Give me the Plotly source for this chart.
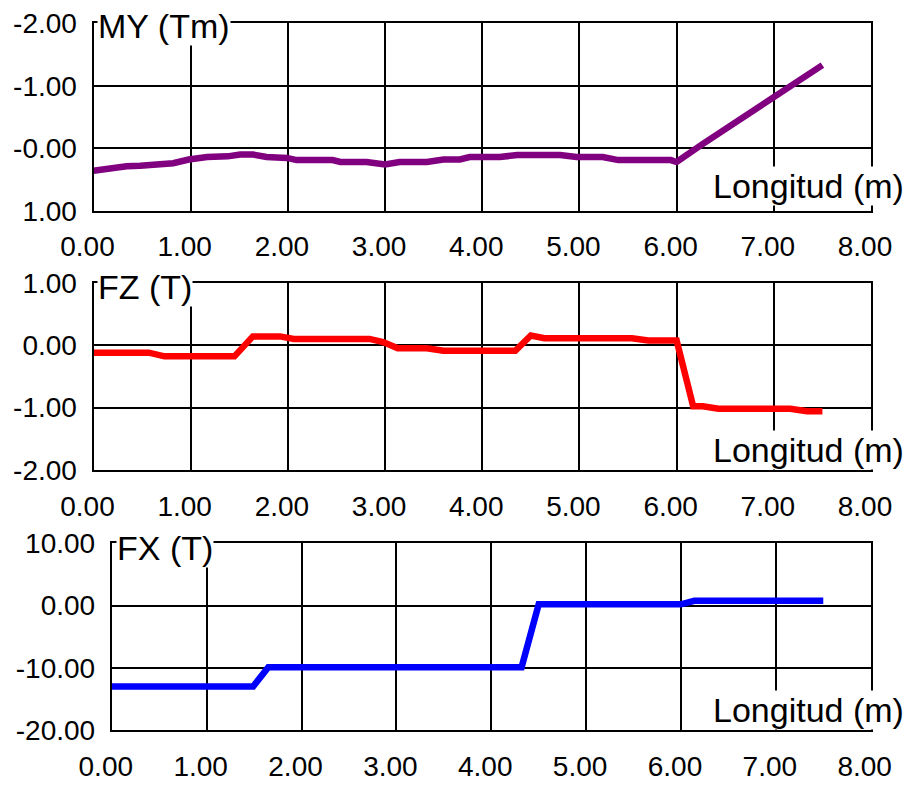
import plotly.graph_objects as go

W, H = 907, 788

# ---- data ----
my_x = [0.0, 0.22, 0.34, 0.48, 0.65, 0.82, 0.98, 1.17, 1.38, 1.51, 1.64, 1.78, 1.99, 2.09, 2.46, 2.54,
        2.81, 3.0, 3.15, 3.43, 3.6, 3.77, 3.87, 4.18, 4.36, 4.8, 4.97, 5.24, 5.4, 5.94, 6.0, 6.27, 7.5]
my_y = [0.36, 0.30, 0.29, 0.28, 0.26, 0.24, 0.18, 0.14, 0.13, 0.10, 0.10, 0.14, 0.155, 0.19, 0.19, 0.22,
        0.22, 0.26, 0.22, 0.22, 0.18, 0.18, 0.14, 0.14, 0.11, 0.11, 0.14, 0.14, 0.19, 0.19, 0.22, -0.07, -1.33]

fz_x = [0.0, 0.57, 0.73, 1.45, 1.64, 1.92, 2.06, 2.84, 2.98, 3.13, 3.43, 3.6, 4.34, 4.5, 4.64, 5.54,
        5.71, 6.0, 6.17, 6.27, 6.43, 7.17, 7.34, 7.5]
fz_y = [-0.12, -0.12, -0.18, -0.18, 0.14, 0.14, 0.10, 0.10, 0.05, -0.05, -0.05, -0.09, -0.09, 0.155, 0.11, 0.11,
        0.075, 0.075, -0.98, -0.98, -1.02, -1.02, -1.06, -1.06]

fx_x = [0.0, 1.49, 1.65, 4.32, 4.5, 6.0, 6.14, 7.5]
fx_y = [-13.0, -13.0, -9.9, -9.9, 0.2, 0.2, 0.75, 0.75]

x_ticks = [0, 1, 2, 3, 4, 5, 6, 7, 8]
x_ticktext = ["0.00", "1.00", "2.00", "3.00", "4.00", "5.00", "6.00", "7.00", "8.00"]
my_ticks = [-2, -1, 0, 1]
my_ticktext = ["-2.00", "-1.00", "-0.00", "1.00"]
fz_ticks = [1, 0, -1, -2]
fz_ticktext = ["1.00", "0.00", "-1.00", "-2.00"]
fx_ticks = [10, 0, -10, -20]
fx_ticktext = ["10.00", "0.00", "-10.00", "-20.00"]

FONT = "Liberation Sans"

def px_x(p):
    return p / W

def px_y(p):
    return 1 - p / H

fig = go.Figure()
fig.add_trace(go.Scatter(x=my_x, y=my_y, mode="lines", line=dict(color="#800080", width=6.5),
                         xaxis="x", yaxis="y", showlegend=False))
fig.add_trace(go.Scatter(x=fz_x, y=fz_y, mode="lines", line=dict(color="#ff0000", width=6.5),
                         xaxis="x2", yaxis="y2", showlegend=False))
fig.add_trace(go.Scatter(x=fx_x, y=fx_y, mode="lines", line=dict(color="#0000ff", width=6.5),
                         xaxis="x3", yaxis="y3", showlegend=False))

def xax(domain, anchor):
    return dict(domain=domain, anchor=anchor, range=[0, 8], tickvals=x_ticks, ticktext=x_ticktext,
                showgrid=True, gridcolor="black", gridwidth=2, showline=True, mirror=True,
                linecolor="black", linewidth=2, zeroline=False, ticks="", automargin=False,
                ticklabelstandoff=10, ticklabelshift=-6,
                tickfont=dict(family=FONT, size=28, color="black"), fixedrange=True)

def yax(domain, anchor, rng, tv, tt):
    return dict(domain=domain, anchor=anchor, range=rng, tickvals=tv, ticktext=tt,
                showgrid=True, gridcolor="black", gridwidth=2, showline=True, mirror=True,
                linecolor="black", linewidth=2, zeroline=False, ticks="", automargin=False,
                ticklabelstandoff=9,
                tickfont=dict(family=FONT, size=28, color="black"), fixedrange=True)

xd12 = [px_x(93.5), px_x(871)]
xd3 = [px_x(111.8), px_x(870.7)]

fig.update_layout(
    width=W, height=H, margin=dict(l=0, r=0, t=0, b=0, autoexpand=False),
    paper_bgcolor="white", plot_bgcolor="white",
    xaxis=xax(xd12, "y"),
    yaxis=yax([px_y(210.7), px_y(23.3)], "x", [1, -2], my_ticks, my_ticktext),
    xaxis2=xax(xd12, "y2"),
    yaxis2=yax([px_y(470), px_y(282.7)], "x2", [-2, 1], fz_ticks, fz_ticktext),
    xaxis3=xax(xd3, "y3"),
    yaxis3=yax([px_y(730), px_y(543.3)], "x3", [-20, 10], fx_ticks, fx_ticktext),
)

titles = [("MY (Tm)", 97, 26), ("FZ (T)", 97, 287), ("FX (T)", 116, 548)]
for txt, x, y in titles:
    fig.add_annotation(text=txt, xref="paper", yref="paper", x=px_x(x), y=px_y(y),
                       xanchor="left", yanchor="middle", showarrow=False, bgcolor="white",
                       borderpad=0, font=dict(family=FONT, size=34, color="black"))

for y in [186, 450, 710]:
    fig.add_annotation(text="Longitud (m)", xref="paper", yref="paper", x=px_x(905), y=px_y(y),
                       xanchor="right", yanchor="middle", showarrow=False, bgcolor="white",
                       borderpad=0, font=dict(family=FONT, size=34, color="black"))

fig.write_html("out.html", config={"displayModeBar": False},
               post_script="document.body.style.margin='0';")
